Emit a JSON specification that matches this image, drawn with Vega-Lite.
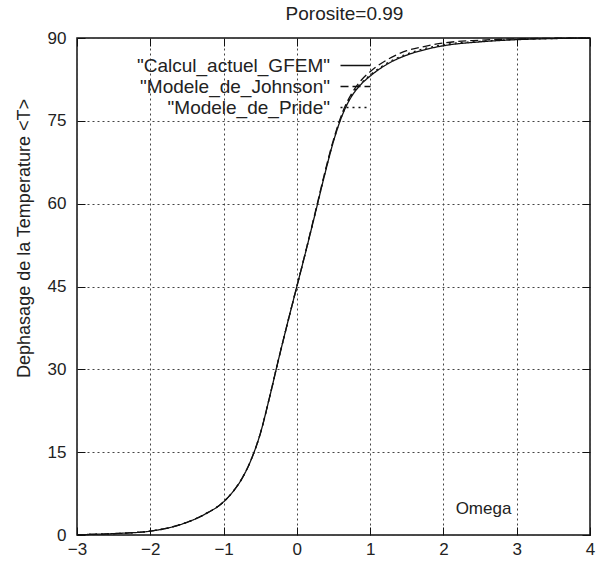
{
  "$schema": "https://vega.github.io/schema/vega-lite/v6.json",
  "width": 513,
  "height": 497,
  "autosize": {"type": "none"},
  "padding": {"left": 77, "top": 38, "right": 14, "bottom": 31},
  "background": "white",
  "title": {"text": "Porosite=0.99", "font": "Liberation Sans", "fontSize": 19, "fontWeight": "normal", "color": "#222", "offset": 5, "dx": 11},
  "config": {
    "view": {"stroke": "#111", "strokeWidth": 1.5},
    "font": "Liberation Sans"
  },
  "data": {"values": [
    {"series": "\"Calcul_actuel_GFEM\"", "x": -3, "y": 0.05},
    {"series": "\"Calcul_actuel_GFEM\"", "x": -2.5, "y": 0.25},
    {"series": "\"Calcul_actuel_GFEM\"", "x": -2, "y": 0.7},
    {"series": "\"Calcul_actuel_GFEM\"", "x": -1.75, "y": 1.3},
    {"series": "\"Calcul_actuel_GFEM\"", "x": -1.5, "y": 2.3},
    {"series": "\"Calcul_actuel_GFEM\"", "x": -1.25, "y": 3.8},
    {"series": "\"Calcul_actuel_GFEM\"", "x": -1, "y": 6.0},
    {"series": "\"Calcul_actuel_GFEM\"", "x": -0.875, "y": 7.8},
    {"series": "\"Calcul_actuel_GFEM\"", "x": -0.75, "y": 10.2},
    {"series": "\"Calcul_actuel_GFEM\"", "x": -0.625, "y": 13.6},
    {"series": "\"Calcul_actuel_GFEM\"", "x": -0.5, "y": 18.3},
    {"series": "\"Calcul_actuel_GFEM\"", "x": -0.375, "y": 24.8},
    {"series": "\"Calcul_actuel_GFEM\"", "x": -0.25, "y": 31.8},
    {"series": "\"Calcul_actuel_GFEM\"", "x": -0.125, "y": 38.5},
    {"series": "\"Calcul_actuel_GFEM\"", "x": 0, "y": 45.0},
    {"series": "\"Calcul_actuel_GFEM\"", "x": 0.125, "y": 51.5},
    {"series": "\"Calcul_actuel_GFEM\"", "x": 0.25, "y": 58.2},
    {"series": "\"Calcul_actuel_GFEM\"", "x": 0.375, "y": 65.0},
    {"series": "\"Calcul_actuel_GFEM\"", "x": 0.5, "y": 71.3},
    {"series": "\"Calcul_actuel_GFEM\"", "x": 0.625, "y": 76.2},
    {"series": "\"Calcul_actuel_GFEM\"", "x": 0.75, "y": 79.5},
    {"series": "\"Calcul_actuel_GFEM\"", "x": 0.875, "y": 81.6},
    {"series": "\"Calcul_actuel_GFEM\"", "x": 1, "y": 83.1},
    {"series": "\"Calcul_actuel_GFEM\"", "x": 1.25, "y": 85.4},
    {"series": "\"Calcul_actuel_GFEM\"", "x": 1.5, "y": 86.9},
    {"series": "\"Calcul_actuel_GFEM\"", "x": 1.75, "y": 87.9},
    {"series": "\"Calcul_actuel_GFEM\"", "x": 2, "y": 88.6},
    {"series": "\"Calcul_actuel_GFEM\"", "x": 2.5, "y": 89.3},
    {"series": "\"Calcul_actuel_GFEM\"", "x": 3, "y": 89.7},
    {"series": "\"Calcul_actuel_GFEM\"", "x": 3.5, "y": 89.9},
    {"series": "\"Calcul_actuel_GFEM\"", "x": 4, "y": 90.0},
    {"series": "\"Modele_de_Johnson\"", "x": -3, "y": 0.05},
    {"series": "\"Modele_de_Johnson\"", "x": -2.5, "y": 0.25},
    {"series": "\"Modele_de_Johnson\"", "x": -2, "y": 0.7},
    {"series": "\"Modele_de_Johnson\"", "x": -1.75, "y": 1.3},
    {"series": "\"Modele_de_Johnson\"", "x": -1.5, "y": 2.3},
    {"series": "\"Modele_de_Johnson\"", "x": -1.25, "y": 3.8},
    {"series": "\"Modele_de_Johnson\"", "x": -1, "y": 6.0},
    {"series": "\"Modele_de_Johnson\"", "x": -0.875, "y": 7.8},
    {"series": "\"Modele_de_Johnson\"", "x": -0.75, "y": 10.2},
    {"series": "\"Modele_de_Johnson\"", "x": -0.625, "y": 13.6},
    {"series": "\"Modele_de_Johnson\"", "x": -0.5, "y": 18.3},
    {"series": "\"Modele_de_Johnson\"", "x": -0.375, "y": 24.8},
    {"series": "\"Modele_de_Johnson\"", "x": -0.25, "y": 31.8},
    {"series": "\"Modele_de_Johnson\"", "x": -0.125, "y": 38.5},
    {"series": "\"Modele_de_Johnson\"", "x": 0, "y": 45.0},
    {"series": "\"Modele_de_Johnson\"", "x": 0.125, "y": 51.6},
    {"series": "\"Modele_de_Johnson\"", "x": 0.25, "y": 58.4},
    {"series": "\"Modele_de_Johnson\"", "x": 0.375, "y": 65.3},
    {"series": "\"Modele_de_Johnson\"", "x": 0.5, "y": 71.6},
    {"series": "\"Modele_de_Johnson\"", "x": 0.625, "y": 76.6},
    {"series": "\"Modele_de_Johnson\"", "x": 0.75, "y": 80.0},
    {"series": "\"Modele_de_Johnson\"", "x": 0.875, "y": 82.3},
    {"series": "\"Modele_de_Johnson\"", "x": 1, "y": 83.9},
    {"series": "\"Modele_de_Johnson\"", "x": 1.25, "y": 86.2},
    {"series": "\"Modele_de_Johnson\"", "x": 1.5, "y": 87.7},
    {"series": "\"Modele_de_Johnson\"", "x": 1.75, "y": 88.5},
    {"series": "\"Modele_de_Johnson\"", "x": 2, "y": 89.1},
    {"series": "\"Modele_de_Johnson\"", "x": 2.5, "y": 89.6},
    {"series": "\"Modele_de_Johnson\"", "x": 3, "y": 89.85},
    {"series": "\"Modele_de_Johnson\"", "x": 3.5, "y": 89.95},
    {"series": "\"Modele_de_Johnson\"", "x": 4, "y": 90.0},
    {"series": "\"Modele_de_Pride\"", "x": -3, "y": 0.05},
    {"series": "\"Modele_de_Pride\"", "x": -2.5, "y": 0.25},
    {"series": "\"Modele_de_Pride\"", "x": -2, "y": 0.7},
    {"series": "\"Modele_de_Pride\"", "x": -1.75, "y": 1.3},
    {"series": "\"Modele_de_Pride\"", "x": -1.5, "y": 2.3},
    {"series": "\"Modele_de_Pride\"", "x": -1.25, "y": 3.8},
    {"series": "\"Modele_de_Pride\"", "x": -1, "y": 6.0},
    {"series": "\"Modele_de_Pride\"", "x": -0.875, "y": 7.8},
    {"series": "\"Modele_de_Pride\"", "x": -0.75, "y": 10.2},
    {"series": "\"Modele_de_Pride\"", "x": -0.625, "y": 13.6},
    {"series": "\"Modele_de_Pride\"", "x": -0.5, "y": 18.3},
    {"series": "\"Modele_de_Pride\"", "x": -0.375, "y": 24.8},
    {"series": "\"Modele_de_Pride\"", "x": -0.25, "y": 31.8},
    {"series": "\"Modele_de_Pride\"", "x": -0.125, "y": 38.5},
    {"series": "\"Modele_de_Pride\"", "x": 0, "y": 45.0},
    {"series": "\"Modele_de_Pride\"", "x": 0.125, "y": 51.5},
    {"series": "\"Modele_de_Pride\"", "x": 0.25, "y": 58.2},
    {"series": "\"Modele_de_Pride\"", "x": 0.375, "y": 65.1},
    {"series": "\"Modele_de_Pride\"", "x": 0.5, "y": 71.4},
    {"series": "\"Modele_de_Pride\"", "x": 0.625, "y": 76.3},
    {"series": "\"Modele_de_Pride\"", "x": 0.75, "y": 79.7},
    {"series": "\"Modele_de_Pride\"", "x": 0.875, "y": 81.8},
    {"series": "\"Modele_de_Pride\"", "x": 1, "y": 83.3},
    {"series": "\"Modele_de_Pride\"", "x": 1.25, "y": 85.6},
    {"series": "\"Modele_de_Pride\"", "x": 1.5, "y": 87.1},
    {"series": "\"Modele_de_Pride\"", "x": 1.75, "y": 88.1},
    {"series": "\"Modele_de_Pride\"", "x": 2, "y": 88.8},
    {"series": "\"Modele_de_Pride\"", "x": 2.5, "y": 89.4},
    {"series": "\"Modele_de_Pride\"", "x": 3, "y": 89.75},
    {"series": "\"Modele_de_Pride\"", "x": 3.5, "y": 89.9},
    {"series": "\"Modele_de_Pride\"", "x": 4, "y": 90.0}
  ]},
  "layer": [
    {
      "mark": {"type": "line", "color": "#111", "strokeWidth": 1.3, "interpolate": "monotone"},
      "encoding": {
        "x": {
          "field": "x", "type": "quantitative",
          "scale": {"domain": [-3, 4], "nice": false, "zero": false},
          "axis": {
            "title": "Omega", "titleX": 406, "titleY": -27, "titleBaseline": "middle", "titleAnchor": null, "titleAlign": "center",
            "titleFont": "Liberation Sans", "titleFontSize": 17, "titleFontWeight": "normal", "titleColor": "#222",
            "values": [-3, -2, -1, 0, 1, 2, 3, 4], "labelFontSize": 17, "labelColor": "#222", "labelPadding": 14,
            "domain": false, "ticks": true, "tickSize": -8, "tickColor": "#111",
            "grid": true, "gridDash": [2, 3], "gridColor": "#444", "gridWidth": 1, "labelFlush": false
          }
        },
        "y": {
          "field": "y", "type": "quantitative",
          "scale": {"domain": [0, 90], "nice": false},
          "axis": {
            "title": "Dephasage de la Temperature <T>", "titleFont": "Liberation Sans", "titleFontSize": 18, "titleFontWeight": "normal", "titleColor": "#222", "titlePadding": 14, "titleY": 200,
            "values": [0, 15, 30, 45, 60, 75, 90], "labelFontSize": 17, "labelColor": "#222", "labelPadding": 19,
            "domain": false, "ticks": true, "tickSize": -8, "tickColor": "#111",
            "grid": true, "gridDash": [2, 3], "gridColor": "#444", "gridWidth": 1, "labelFlush": false
          }
        },
        "strokeDash": {
          "field": "series", "type": "nominal",
          "scale": {"domain": ["\"Calcul_actuel_GFEM\"", "\"Modele_de_Johnson\"", "\"Modele_de_Pride\""], "range": [[1, 0], [8, 4], [2, 4]]},
          "legend": {
            "title": null, "orient": "none", "legendX": 269, "legendY": 18, "padding": 0,
            "symbolType": "M-3,0H3", "symbolSize": 100, "symbolStrokeColor": "#111", "symbolStrokeWidth": 1.3, "symbolFillColor": "transparent",
            "labelAlign": "right", "labelOffset": -35, "labelFontSize": 19, "labelColor": "#222", "labelFont": "Liberation Sans", "labelLimit": 400,
            "rowPadding": 1
          }
        }
      }
    },
    {
      "mark": {"type": "line", "opacity": 0},
      "encoding": {
        "x": {
          "field": "x", "type": "quantitative",
          "axis": {"orient": "top", "title": null, "labels": false, "domain": false, "grid": false, "values": [-3, -2, -1, 0, 1, 2, 3, 4], "ticks": true, "tickSize": -8, "tickColor": "#111"}
        },
        "y": {
          "field": "y", "type": "quantitative",
          "axis": {"orient": "right", "title": null, "labels": false, "domain": false, "grid": false, "values": [0, 15, 30, 45, 60, 75, 90], "ticks": true, "tickSize": -8, "tickColor": "#111"}
        },
        "detail": {"field": "series"}
      }
    }
  ],
  "resolve": {"axis": {"x": "independent", "y": "independent"}}
}
